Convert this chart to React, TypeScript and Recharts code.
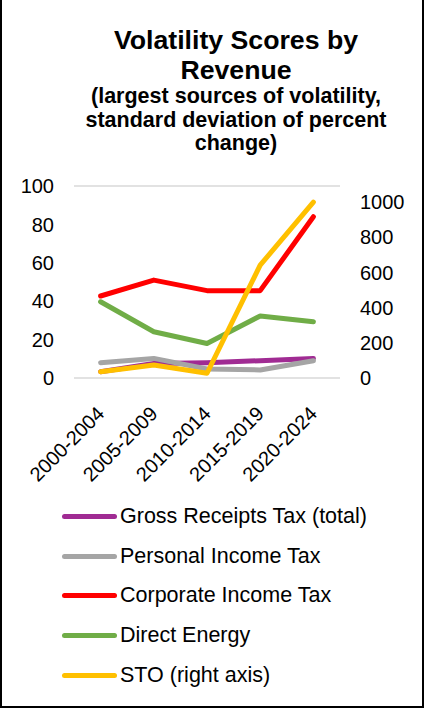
import { LineChart, Line, XAxis, YAxis, CartesianGrid, Legend } from 'recharts';

const periods = ['2000-2004', '2005-2009', '2010-2014', '2015-2019', '2020-2024'];
const grossReceipts = [3.3, 7.6, 8, 9, 10.2];
const personalIncome = [8, 10.2, 4.7, 4.2, 9];
const corporateIncome = [42.7, 51, 45.5, 45.5, 84];
const directEnergy = [39.7, 24.1, 18, 32.3, 29.3];
const sto = [36, 74, 27, 642, 1000];

const leftTicks = [0, 20, 40, 60, 80, 100];
const rightTicks = [0, 200, 400, 600, 800, 1000];

const series = [
  { key: 'gross', name: 'Gross Receipts Tax (total)', color: '#A02B93', axis: 'left' },
  { key: 'personal', name: 'Personal Income Tax', color: '#A5A5A5', axis: 'left' },
  { key: 'corporate', name: 'Corporate Income Tax', color: '#FF0000', axis: 'left' },
  { key: 'energy', name: 'Direct Energy', color: '#70AD47', axis: 'left' },
  { key: 'sto', name: 'STO (right axis)', color: '#FFC000', axis: 'right' },
];

const data = periods.map((p, i) => ({
  period: p,
  gross: grossReceipts[i],
  personal: personalIncome[i],
  corporate: corporateIncome[i],
  energy: directEnergy[i],
  sto: sto[i],
}));

const FONT = '"Liberation Sans", Arial, sans-serif';

function AngledTick({ x, y, payload }: any) {
  return (
    <g transform={`translate(${x + 5},${y + 29})`}>
      <text textAnchor="end" transform="rotate(-45)" fontSize={20} fill="#000" fontFamily={FONT}>
        {payload.value}
      </text>
    </g>
  );
}

// keep the legend in series order (recharts groups it by axis otherwise)
function LegendList() {
  return (
    <div style={{ fontFamily: FONT, fontSize: 21.5, color: '#000' }}>
      {series.map((item) => (
        <div key={item.key} style={{ display: 'flex', alignItems: 'center', height: 39.6 }}>
          <span
            style={{
              display: 'inline-block',
              width: 55,
              height: 5,
              borderRadius: 2.5,
              background: item.color,
              marginLeft: 62,
              marginRight: 3,
            }}
          />
          <span>{item.name}</span>
        </div>
      ))}
    </div>
  );
}

export default function App() {
  return (
    <div
      style={{
        position: 'absolute',
        top: 0,
        left: 0,
        width: 420,
        height: 706,
        borderLeft: '2px solid #000',
        borderRight: '2px solid #000',
        borderBottom: '2px solid #000',
        background: '#fff',
        fontFamily: FONT,
      }}
    >
      <div
        style={{
          position: 'absolute',
          top: 25,
          left: 0,
          width: 468,
          textAlign: 'center',
          fontWeight: 'bold',
        }}
      >
        <div style={{ fontSize: 26.7, lineHeight: '30px' }}>
          Volatility Scores by
          <br />
          Revenue
        </div>
        <div style={{ fontSize: 21.5, lineHeight: '23.5px' }}>
          (largest sources of volatility,
          <br />
          standard deviation of percent
          <br />
          change)
        </div>
      </div>
      <div style={{ position: 'absolute', top: 0, left: -2 }}>
        <LineChart
          width={423}
          height={706}
          data={data}
          margin={{ top: 186, right: 8, bottom: 228, left: 14 }}
        >
          <CartesianGrid vertical={false} stroke="#D9D9D9" strokeWidth={1.5} />
          <XAxis
            dataKey="period"
            axisLine={false}
            tickLine={false}
            interval={0}
            height={100}
            padding={{ left: 26.6, right: 26.6 }}
            tick={<AngledTick />}
          />
          <YAxis
            yAxisId="left"
            domain={[0, 100]}
            ticks={leftTicks}
            width={60}
            axisLine={false}
            tickLine={false}
            tick={{ fontSize: 20, fill: '#000', fontFamily: FONT }}
            tickMargin={14}
          />
          <YAxis
            yAxisId="right"
            orientation="right"
            domain={[0, 1092]}
            ticks={rightTicks}
            width={75}
            axisLine={false}
            tickLine={false}
            tick={{ fontSize: 20, fill: '#000', fontFamily: FONT, textAnchor: 'start' }}
            tickMargin={14}
          />
          {series.map((s) => (
            <Line
              key={s.key}
              yAxisId={s.axis}
              dataKey={s.key}
              name={s.name}
              stroke={s.color}
              strokeWidth={5}
              strokeLinecap="round"
              strokeLinejoin="round"
              dot={false}
              isAnimationActive={false}
            />
          ))}
          <Legend
            layout="horizontal"
            verticalAlign="middle"
            align="center"
            wrapperStyle={{ position: 'absolute', top: 497, left: 0, width: 423 }}
            content={<LegendList />}
          />
        </LineChart>
      </div>
    </div>
  );
}
